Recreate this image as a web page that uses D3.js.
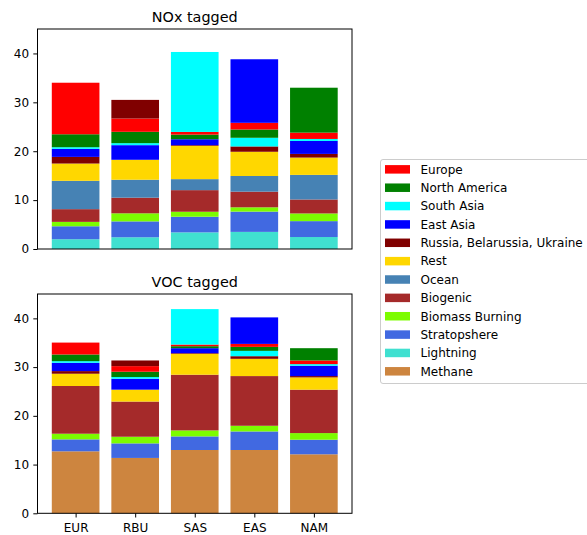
<!DOCTYPE html>
<html>
<head>
<meta charset="utf-8">
<script src="https://cdn.jsdelivr.net/npm/d3@7/dist/d3.min.js"></script>
<style>
  html, body { margin: 0; padding: 0; background: #fff; }
  svg { display: block; font-family: "DejaVu Sans", sans-serif; }
</style>
</head>
<body>
<svg id="chart" width="587" height="535"></svg>
<script>
// Receptor regions (one bar each)
const regions = ["EUR", "RBU", "SAS", "EAS", "NAM"];

// Source categories, bottom-to-top base stacking order
const sources = ["Methane", "Lightning", "Stratopshere", "Biomass Burning", "Biogenic",
  "Ocean", "Rest", "Russia, Belarussia, Ukraine", "East Asia", "South Asia",
  "North America", "Europe"];
const sourceColors = ["peru", "turquoise", "royalblue", "lawngreen", "brown",
  "steelblue", "gold", "maroon", "blue", "cyan", "green", "red"];

// Legend order (top to bottom)
const legendOrder = ["Europe", "North America", "South Asia", "East Asia",
  "Russia, Belarussia, Ukraine", "Rest", "Ocean", "Biogenic", "Biomass Burning",
  "Stratopshere", "Lightning", "Methane"];

// Source that belongs to each receptor region (drawn on top of its own bar)
const ownSource = ["Europe", "Russia, Belarussia, Ukraine", "South Asia", "East Asia", "North America"];

// NOx tagged ozone contributions, per source, across regions
const noxMethane      = [0, 0, 0, 0, 0];
const noxLightning    = [2.0, 2.4, 3.4, 3.5, 2.45];
const noxStrat        = [2.65, 3.25, 3.2, 4.15, 3.25];
const noxBiomass      = [0.9, 1.65, 1.02, 0.88, 1.57];
const noxBiogenic     = [2.6, 3.2, 4.42, 3.2, 2.86];
const noxOcean        = [5.8, 3.67, 2.25, 3.2, 5.03];
const noxRest         = [3.53, 4.08, 6.8, 4.96, 3.54];
const noxRBU          = [1.36, 3.81, 0.15, 1.09, 0.75];
const noxEastAsia     = [1.64, 2.99, 1.21, 13.0, 2.65];
const noxSouthAsia    = [0.34, 0.41, 16.35, 1.77, 0.41];
const noxNorthAmerica = [2.65, 2.32, 0.95, 1.7, 9.19];
const noxEurope       = [10.54, 2.72, 0.55, 1.36, 1.29];

// VOC tagged ozone contributions, per source, across regions
const vocMethane      = [12.72, 11.36, 12.99, 12.99, 12.11];
const vocLightning    = [0, 0, 0, 0, 0];
const vocStrat        = [2.45, 2.99, 2.79, 3.81, 2.99];
const vocBiomass      = [1.16, 1.36, 1.23, 1.16, 1.36];
const vocBiogenic     = [9.79, 7.22, 11.43, 10.2, 8.91];
const vocOcean        = [0, 0, 0, 0, 0];
const vocRest         = [2.52, 2.44, 4.28, 3.54, 2.52];
const vocRBU          = [0.54, 1.16, 0.14, 0.54, 0.27];
const vocEastAsia     = [1.7, 2.25, 1.02, 5.44, 2.11];
const vocSouthAsia    = [0.34, 0.34, 7.27, 1.09, 0.34];
const vocNorthAmerica = [1.37, 1.09, 0.41, 0.82, 2.52];
const vocEurope       = [2.44, 1.15, 0.34, 0.61, 0.75];

const yTicks = [0, 10, 20, 30, 40];

const noxSeries = [noxMethane, noxLightning, noxStrat, noxBiomass, noxBiogenic, noxOcean,
  noxRest, noxRBU, noxEastAsia, noxSouthAsia, noxNorthAmerica, noxEurope];
const vocSeries = [vocMethane, vocLightning, vocStrat, vocBiomass, vocBiogenic, vocOcean,
  vocRest, vocRBU, vocEastAsia, vocSouthAsia, vocNorthAmerica, vocEurope];

const color = d3.scaleOrdinal().domain(sources).range(sourceColors);
const svg = d3.select("#chart");

const left = 37.5, right = 352;
const x = d3.scaleLinear().domain([-0.64, 4.64]).range([left, right]);
const barW = x(0.8) - x(0);
const fontSize = 12;

function drawPanel(title, series, top, bottom, showX) {
  const y = d3.scaleLinear().domain([0, 45]).range([bottom, top]);
  const g = svg.append("g");

  // one stacked bar per region; own region's source is moved to the top
  regions.forEach((reg, i) => {
    const order = sources.filter(s => s !== ownSource[i]).concat([ownSource[i]]);
    const row = {};
    sources.forEach((s, k) => { row[s] = series[k][i]; });
    const stacked = d3.stack().keys(order)([row]);
    g.selectAll(null)
      .data(stacked)
      .join("rect")
      .attr("x", x(i) - barW / 2)
      .attr("width", barW)
      .attr("y", d => y(d[0][1]))
      .attr("height", d => y(d[0][0]) - y(d[0][1]))
      .attr("fill", d => color(d.key));
  });

  // y axis
  const ya = g.append("g").attr("transform", `translate(${left},0)`)
    .call(d3.axisLeft(y).tickValues(yTicks).tickSize(4.2).tickPadding(4.2));
  ya.select(".domain").remove();
  ya.selectAll("text").attr("font-size", fontSize).attr("font-family", "DejaVu Sans").attr("fill", "#000");

  if (showX) {
    const xa = g.append("g").attr("transform", `translate(0,${bottom})`)
      .call(d3.axisBottom(x).tickValues(d3.range(regions.length))
        .tickFormat(i => regions[i]).tickSize(4.2).tickPadding(4.2));
    xa.select(".domain").remove();
    xa.selectAll("text").attr("font-size", fontSize).attr("font-family", "DejaVu Sans")
      .attr("fill", "#000").attr("dy", "0.82em");
  }

  // frame
  g.append("rect").attr("x", left).attr("y", top)
    .attr("width", right - left).attr("height", bottom - top)
    .attr("fill", "none").attr("stroke", "#000").attr("stroke-width", 1);

  g.append("text").attr("x", (left + right) / 2).attr("y", top - 7.5)
    .attr("text-anchor", "middle").attr("font-size", 14.4).text(title);
}

drawPanel("NOx tagged", noxSeries, 29, 249, false);
drawPanel("VOC tagged", vocSeries, 294, 513.3, true);

// legend
const lg = svg.append("g");
lg.append("rect").attr("x", 380.5).attr("y", 159.5).attr("width", 230).attr("height", 224)
  .attr("rx", 2.5).attr("fill", "#fff").attr("stroke", "#ccc").attr("stroke-width", 1);
legendOrder.forEach((name, k) => {
  const cy = 169.3 + k * 18.36;
  lg.append("rect").attr("x", 385).attr("y", cy - 4.2).attr("width", 25).attr("height", 8.5)
    .attr("fill", color(name));
  lg.append("text").attr("x", 420.5).attr("y", cy).attr("dy", "0.36em")
    .attr("font-size", fontSize).text(name);
});
</script>
</body>
</html>
